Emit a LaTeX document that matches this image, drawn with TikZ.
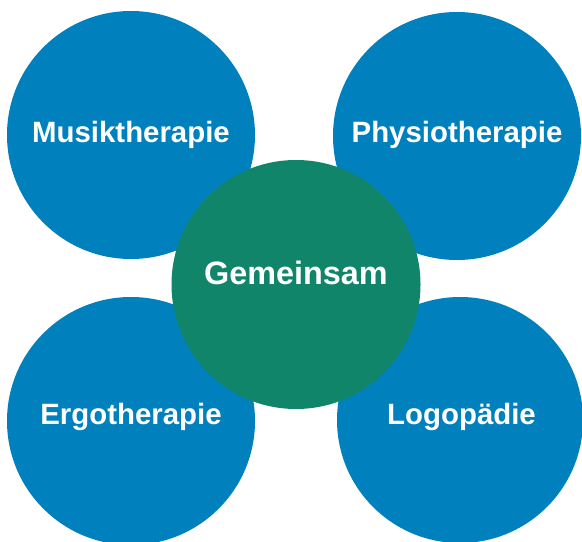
\documentclass[tikz,border=0pt]{standalone}
\usepackage{fontspec}
\setmainfont{Liberation Sans}
\definecolor{bubbleblue}{RGB}{0,129,189}
\definecolor{bubblegreen}{RGB}{17,133,105}
\tikzset{
  bubble/.style={
    circle,
    inner sep=0pt,
    draw=none
  },
  bubble-blue/.style={
    bubble,
    fill=bubbleblue,
    minimum size=248bp
  },
  bubble-green/.style={
    bubble,
    fill=bubblegreen,
    minimum size=249bp
  },
  bubble-text/.style={
    anchor=base,
    inner sep=0pt,
    text=white,
    font=\bfseries\fontsize{29.5}{34}\selectfont
  },
  bubble-text-big/.style={
    bubble-text,
    font=\bfseries\fontsize{32.5}{37}\selectfont
  }
}

\begin{document}
\begin{tikzpicture}[x=1bp,y=-1bp]
  \useasboundingbox (0,0) rectangle (582,542);
  \clip (0,0) rectangle (582,542);
  % four outer circles
  \node[bubble-blue] (musik) at (131,135) {};
  \node[bubble-blue] (physio) at (457,136) {};
  \node[bubble-blue] (ergo) at (131,421) {};
  \node[bubble-blue, minimum size=246bp] (logo) at (460,420) {};
  % centre circle on top
  \node[bubble-green] (gemeinsam) at (296,284.5) {};
  % labels
  \node[bubble-text] (musik-label) at (131,142.5) {Musiktherapie};
  \node[bubble-text] (physio-label) at (457,142.5) {Physiotherapie};
  \node[bubble-text] (ergo-label) at (131,424) {Ergotherapie};
  \node[bubble-text] (logo-label) at (461.5,424) {Logopädie};
  \node[bubble-text-big] (gemeinsam-label) at (296,284) {Gemeinsam};
\end{tikzpicture}
\end{document}
